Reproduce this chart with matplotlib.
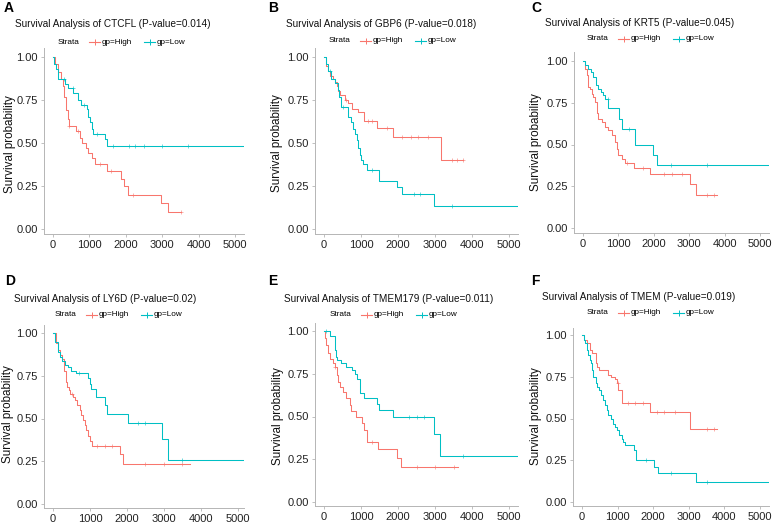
import numpy as np
import matplotlib
matplotlib.use("Agg")
import matplotlib.pyplot as plt
from matplotlib.lines import Line2D

plt.rcParams['font.family'] = ['Liberation Sans', 'DejaVu Sans']

RED = '#F8766D'
BLUE = '#00BFC4'

genes = ['CTCFL', 'GBP6', 'KRT5', 'LY6D', 'TMEM179', 'TMEM']
pvals = ['0.014', '0.018', '0.045', '0.02', '0.011', '0.019']
letters = ['A', 'B', 'C', 'D', 'E', 'F']
xticks = [0, 1000, 2000, 3000, 4000, 5000]
yticks = [0.0, 0.25, 0.5, 0.75, 1.0]
ytick_labels = ['0.00', '0.25', '0.50', '0.75', '1.00']

# step curves (time, survival), gp=High
a_high_t = [0, 50, 150, 220, 270, 300, 360, 400, 450, 640, 730, 800, 900, 960, 1080, 1160, 1470, 1880, 1950, 2070, 2970, 3150, 3510]
a_high_s = [1.0, 0.96, 0.91, 0.87, 0.83, 0.77, 0.69, 0.64, 0.60, 0.57, 0.53, 0.50, 0.47, 0.44, 0.41, 0.38, 0.34, 0.29, 0.25, 0.20, 0.15, 0.10, 0.10]
b_high_t = [0, 50, 100, 160, 240, 300, 340, 380, 430, 560, 650, 760, 930, 1080, 1420, 1870, 3160, 3750]
b_high_s = [1.0, 0.95, 0.92, 0.89, 0.87, 0.855, 0.83, 0.80, 0.78, 0.75, 0.73, 0.70, 0.68, 0.63, 0.585, 0.535, 0.40, 0.40]
c_high_t = [0, 70, 100, 130, 150, 200, 245, 290, 340, 385, 430, 530, 620, 720, 810, 890, 950, 1000, 1100, 1190, 1430, 1880, 3010, 3190, 3780]
c_high_s = [1.0, 0.955, 0.915, 0.875, 0.845, 0.835, 0.805, 0.785, 0.755, 0.69, 0.655, 0.635, 0.605, 0.585, 0.555, 0.515, 0.475, 0.44, 0.415, 0.39, 0.36, 0.325, 0.265, 0.20, 0.20]
d_high_t = [0, 90, 135, 200, 250, 300, 340, 380, 420, 470, 540, 590, 660, 720, 770, 810, 860, 900, 950, 1000, 1050, 1800, 1890, 3700]
d_high_s = [1.0, 0.94, 0.90, 0.87, 0.85, 0.78, 0.715, 0.685, 0.665, 0.645, 0.625, 0.61, 0.58, 0.55, 0.52, 0.49, 0.46, 0.43, 0.40, 0.37, 0.34, 0.295, 0.235, 0.235]
e_high_t = [0, 30, 60, 100, 150, 230, 290, 360, 380, 430, 510, 600, 700, 740, 870, 1030, 1080, 1170, 1460, 1960, 2080, 3630]
e_high_s = [1.0, 0.96, 0.92, 0.87, 0.835, 0.81, 0.79, 0.74, 0.70, 0.67, 0.645, 0.61, 0.57, 0.53, 0.50, 0.46, 0.42, 0.35, 0.31, 0.255, 0.205, 0.205]
f_high_t = [0, 60, 130, 220, 270, 400, 420, 480, 740, 810, 930, 975, 1020, 1110, 1910, 3030, 3780]
f_high_s = [1.0, 0.97, 0.95, 0.91, 0.89, 0.83, 0.81, 0.79, 0.76, 0.75, 0.735, 0.71, 0.67, 0.595, 0.54, 0.435, 0.435]

# gp=Low
a_low_t = [0, 40, 90, 150, 330, 420, 560, 700, 760, 930, 975, 1020, 1065, 1110, 1430, 1495, 5300]
a_low_s = [1.0, 0.96, 0.93, 0.875, 0.845, 0.82, 0.79, 0.75, 0.72, 0.70, 0.65, 0.62, 0.58, 0.55, 0.525, 0.485, 0.485]
b_low_t = [0, 50, 100, 200, 300, 370, 405, 460, 650, 730, 780, 830, 880, 930, 975, 1010, 1060, 1165, 1480, 1960, 2095, 2970, 5300]
b_low_s = [1.0, 0.96, 0.92, 0.87, 0.85, 0.81, 0.77, 0.71, 0.65, 0.62, 0.58, 0.55, 0.52, 0.47, 0.43, 0.40, 0.38, 0.345, 0.28, 0.245, 0.205, 0.135, 0.135]
c_low_t = [0, 55, 150, 225, 290, 360, 430, 510, 575, 620, 720, 1020, 1090, 1480, 1970, 2090, 5300]
c_low_s = [1.0, 0.975, 0.955, 0.935, 0.905, 0.855, 0.835, 0.815, 0.795, 0.775, 0.72, 0.655, 0.595, 0.495, 0.435, 0.375, 0.375]
d_low_t = [0, 50, 135, 200, 245, 315, 405, 495, 630, 950, 1000, 1040, 1170, 1400, 1460, 2030, 2940, 3120, 5300]
d_low_s = [1.0, 0.95, 0.89, 0.86, 0.835, 0.81, 0.80, 0.78, 0.765, 0.735, 0.70, 0.675, 0.625, 0.58, 0.525, 0.475, 0.38, 0.255, 0.255]
e_low_t = [0, 150, 290, 300, 330, 350, 470, 600, 750, 830, 900, 960, 1080, 1420, 1480, 1870, 2980, 3140, 5300]
e_low_s = [1.0, 0.97, 0.93, 0.89, 0.85, 0.83, 0.81, 0.79, 0.77, 0.75, 0.72, 0.635, 0.61, 0.575, 0.54, 0.50, 0.40, 0.27, 0.27]
f_low_t = [0, 50, 90, 130, 180, 225, 250, 270, 320, 380, 430, 480, 530, 600, 650, 690, 740, 810, 880, 930, 990, 1040, 1110, 1160, 1220, 1470, 1530, 2010, 2130, 3200, 5300]
f_low_s = [1.0, 0.97, 0.95, 0.91, 0.88, 0.85, 0.83, 0.79, 0.75, 0.71, 0.69, 0.67, 0.64, 0.61, 0.58, 0.55, 0.52, 0.50, 0.47, 0.45, 0.43, 0.40, 0.38, 0.36, 0.34, 0.31, 0.25, 0.21, 0.175, 0.12, 0.12]

# censor times
a_high_c = [450, 700, 1300, 1600, 2200, 3510]
a_low_c = [300, 550, 850, 1200, 1650, 2090, 2240, 2490, 3000, 3710]
b_high_c = [600, 1200, 1300, 1700, 2100, 2360, 2550, 2820, 3450, 3600, 3750]
b_low_c = [150, 500, 1300, 2440, 2600, 3450]
c_high_c = [1250, 1700, 2300, 2500, 2800, 3500, 3700]
c_low_c = [700, 1300, 2480, 3500]
d_high_c = [500, 1200, 1400, 1600, 2500, 3000, 3500]
d_low_c = [700, 2300, 2500, 3500]
e_high_c = [300, 1300, 2500, 3000, 3500]
e_low_c = [50, 2300, 2500, 2700, 3750]
f_high_c = [1000, 1300, 1500, 1700, 2100, 2300, 2600, 3500, 3700]
f_low_c = [1800, 2500, 3500]

highs = [(a_high_t, a_high_s, a_high_c), (b_high_t, b_high_s, b_high_c), (c_high_t, c_high_s, c_high_c),
         (d_high_t, d_high_s, d_high_c), (e_high_t, e_high_s, e_high_c), (f_high_t, f_high_s, f_high_c)]
lows = [(a_low_t, a_low_s, a_low_c), (b_low_t, b_low_s, b_low_c), (c_low_t, c_low_s, c_low_c),
        (d_low_t, d_low_s, d_low_c), (e_low_t, e_low_s, e_low_c), (f_low_t, f_low_s, f_low_c)]

W, H = 772, 523
fig = plt.figure(figsize=(W / 100, H / 100), dpi=100)

# panel geometry in pixels: left, right, top, bottom, px of x=0, px of x=5000, px of y=1, px of y=0
geo = [(44, 244, 48, 234, 53, 235, 57, 229),
       (315, 518, 48, 234, 324, 509, 57, 229),
       (574, 769, 52, 233, 583, 760, 61, 228),
       (44, 244, 325, 508, 53, 238, 333, 504),
       (315, 518, 323, 506, 324, 509, 331, 502),
       (573, 769, 328, 506, 582, 760, 335, 502)]
title_pos = [(113, 24), (381, 24), (640, 23), (105, 299), (389, 299), (639, 297)]
letter_pos = [(4, 8), (268, 8), (531, 8), (5, 281), (268, 281), (531, 281)]
legend_pos = [(58, 42), (329, 41), (587, 39), (55, 315), (330, 315), (587, 313)]
ylab_pos = [(10, 144), (277, 143), (536, 142), (8, 414), (278, 416), (536, 416)]


def fx(x):
    return x / W


def fy(y):
    return 1 - y / H


def step_val(t, s, c):
    idx = np.searchsorted(np.array(t), c, side='right') - 1
    return np.array(s)[idx]


for i in range(6):
    l, r, t, b, x0, x5, y1, y0 = geo[i]
    ax = fig.add_axes([fx(l), fy(b), (r - l) / W, (b - t) / H])
    sx = 5000 / (x5 - x0)
    sy = 1 / (y0 - y1)
    ax.set_xlim((l - x0) * sx, (r - x0) * sx)
    ax.set_ylim(-(b - y0) * sy, 1 + (y1 - t) * sy)

    for (tt, ss, cc), col in [(highs[i], RED), (lows[i], BLUE)]:
        ax.step(tt, ss, where='post', color=col, lw=0.75)
        cy = step_val(tt, ss, cc)
        ax.plot(cc, cy, ls='none', marker='+', ms=2.2, mew=0.4, color=col)

    for sp in ['top', 'right']:
        ax.spines[sp].set_visible(False)
    for sp in ['left', 'bottom']:
        ax.spines[sp].set_color('#b5b5b5')
        ax.spines[sp].set_linewidth(0.7)
    ax.set_xticks(xticks)
    ax.set_yticks(yticks)
    ax.set_yticklabels(ytick_labels)
    ax.tick_params(length=2.5, width=0.6, color='#b5b5b5', labelsize=8,
                   labelcolor='#222222', pad=2)

    tx, ty = title_pos[i]
    fig.text(fx(tx), fy(ty), 'Survival Analysis of %s (P-value=%s)' % (genes[i], pvals[i]),
             ha='center', va='center', fontsize=7.2, color='#111111')
    lx, ly = letter_pos[i]
    fig.text(fx(lx), fy(ly), letters[i], ha='left', va='center', fontsize=10,
             fontweight='bold', color='black')
    yx, yy = ylab_pos[i]
    fig.text(fx(yx), fy(yy), 'Survival probability', rotation=90, ha='center',
             va='center', fontsize=8.4, color='#111111')

    # legend row
    gx, gy = legend_pos[i]
    fig.text(fx(gx), fy(gy), 'Strata', ha='left', va='center', fontsize=5.9)
    for off, col, lab in [(31, RED, 'gp=High'), (86, BLUE, 'gp=Low')]:
        ln = Line2D([fx(gx + off), fx(gx + off + 5.5), fx(gx + off + 11)], [fy(gy)] * 3,
                    transform=fig.transFigure, color=col, lw=0.8, marker='+',
                    ms=4, mew=0.7, markevery=[1])
        fig.add_artist(ln)
        fig.text(fx(gx + off + 13), fy(gy), lab, ha='left', va='center', fontsize=5.9)

plt.savefig('out.png', dpi=100)
